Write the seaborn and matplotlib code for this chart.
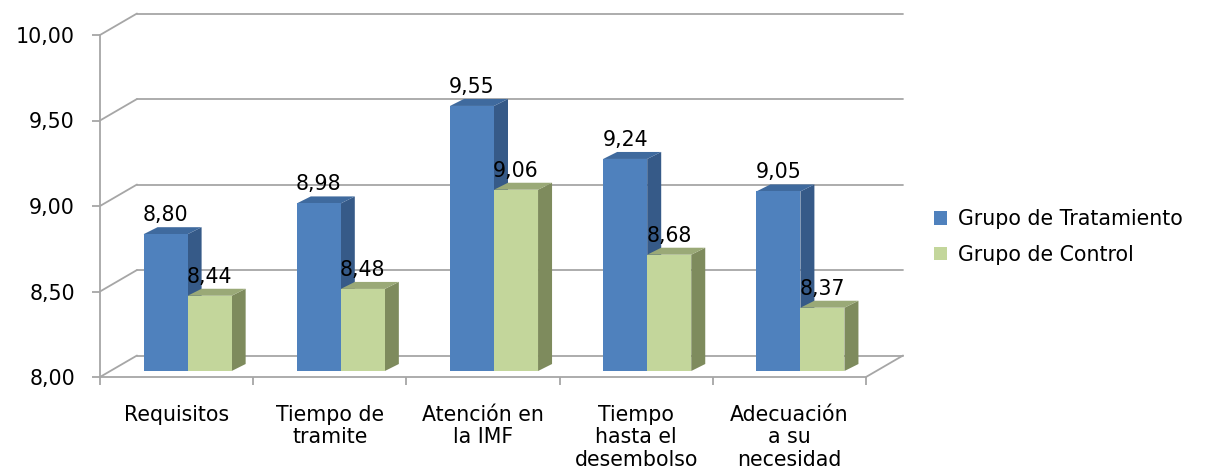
import matplotlib
matplotlib.use("Agg")
import matplotlib.pyplot as plt
import numpy as np
import pandas as pd
import seaborn as sns
from matplotlib.transforms import ScaledTranslation
from matplotlib.patches import Polygon, Patch

# ---- data -------------------------------------------------------------
categories = [
    "Requisitos",
    "Tiempo de\ntramite",
    "Atención en\nla IMF",
    "Tiempo\nhasta el\ndesembolso",
    "Adecuación\na su\nnecesidad",
]
groups = ["Grupo de Tratamiento", "Grupo de Control"]
tratamiento = [8.80, 8.98, 9.55, 9.24, 9.05]
control = [8.44, 8.48, 9.06, 8.68, 8.37]
y_ticks = [8.0, 8.5, 9.0, 9.5, 10.0]

# ---- style ------------------------------------------------------------
sns.set_style("white")
plt.rcParams["font.family"] = ["DejaVu Sans"]
plt.rcParams["text.color"] = "black"
plt.rcParams["xtick.labelcolor"] = "black"
plt.rcParams["ytick.labelcolor"] = "black"
FS = 14.8
front_cols = ["#4F81BD", "#C3D69B"]
side_cols = ["#365A88", "#7E8B5D"]
top_cols = ["#3F6A9E", "#9AA977"]
grid_col = "#A6A6A6"

df = pd.DataFrame({
    "categoria": categories * 2,
    "grupo": [groups[0]] * len(categories) + [groups[1]] * len(categories),
    "valor": tratamiento + control,
})

W, H = 1207, 470
fig = plt.figure(figsize=(W / 100, H / 100), dpi=100)
ax = fig.add_axes([100 / W, 93 / H, 766 / W, 342 / H])

sns.barplot(data=df, x="categoria", y="valor", hue="grupo",
            palette=front_cols, width=0.575, gap=0, saturation=1,
            legend=False, ax=ax, linewidth=0, edgecolor="none")

ymin, ymax = y_ticks[0], y_ticks[-1]
xmin, xmax = -0.5, len(categories) - 0.5
ax.set_ylim(ymin, ymax)
ax.set_xlim(xmin, xmax)

# 3-D look: offsets in pixels (x right, y up)
def shift(dx, dy):
    return ScaledTranslation(dx / 100, dy / 100, fig.dpi_scale_trans)

wall_d = (37, 21.5)      # depth of the back wall
bar_d = (11, 6)          # bars sit a little behind the front plane
bar_thick = (14, 7)      # depth of each bar

bar_tr = ax.transData + shift(*bar_d)
to_fig = fig.transFigure.inverted()

# back wall gridlines
for yv in y_ticks:
    ax.plot([xmin, xmax], [yv, yv], transform=ax.transData + shift(*wall_d),
            color=grid_col, lw=1.3, clip_on=False, zorder=0.5)
    p0 = ax.transData.transform((xmin, yv))
    p1 = p0 + np.array(wall_d)
    ax.plot(*to_fig.transform([p0, p1]).T, transform=fig.transFigure,
            color=grid_col, lw=1.3, clip_on=False, zorder=0.5)
# right edge of the floor
p0 = ax.transData.transform((xmax, ymin))
p1 = p0 + np.array(wall_d)
ax.plot(*to_fig.transform([p0, p1]).T, transform=fig.transFigure,
        color=grid_col, lw=1.3, clip_on=False, zorder=0.5)

# bars: front faces from seaborn, plus side and top faces
bars = sorted(ax.patches, key=lambda p: p.get_x())
n_cat = len(categories)
hue_of = {}
for i, p in enumerate(ax.patches):
    hue_of[id(p)] = i // n_cat

z = 2.0
for p in bars:
    h = hue_of[id(p)]
    top = p.get_y() + p.get_height()
    p.set_y(ymin)
    p.set_height(top - ymin)
    p.set_transform(bar_tr)
    p.set_clip_on(False)
    x0, x1 = p.get_x(), p.get_x() + p.get_width()
    (X0, Y0), (X1, Yt) = bar_tr.transform([(x0, ymin), (x1, top)])
    dx, dy = bar_thick
    side = [(X1, Y0), (X1 + dx, Y0 + dy), (X1 + dx, Yt + dy), (X1, Yt)]
    topf = [(X0, Yt), (X1, Yt), (X1 + dx, Yt + dy), (X0 + dx, Yt + dy)]
    ax.add_patch(Polygon(to_fig.transform(side), closed=True,
                         transform=fig.transFigure, facecolor=side_cols[h],
                         edgecolor="none", clip_on=False, zorder=z))
    ax.add_patch(Polygon(to_fig.transform(topf), closed=True,
                         transform=fig.transFigure, facecolor=top_cols[h],
                         edgecolor="none", clip_on=False, zorder=z + 0.1))
    p.set_zorder(z + 0.2)
    ax.annotate(f"{top:.2f}".replace(".", ","), xy=((x0 + x1) / 2, top),
                xycoords=bar_tr, xytext=(0, 9.5), textcoords="offset points",
                ha="center", va="baseline", fontsize=FS, color="black",
                zorder=10, annotation_clip=False)
    z += 1

ax.set_ylim(ymin, ymax)
ax.set_xlim(xmin, xmax)

# axes, ticks and labels
for s in ["top", "right"]:
    ax.spines[s].set_visible(False)
for s in ["left", "bottom"]:
    ax.spines[s].set_color(grid_col)
    ax.spines[s].set_linewidth(1.3)
ax.set_yticks(y_ticks)
ax.set_yticklabels([f"{v:.2f}".replace(".", ",") for v in y_ticks], fontsize=FS)
ax.tick_params(axis="y", length=6, width=1.3, color=grid_col, pad=12,
               direction="out", left=True, labelcolor="black")
ax.set_xticks(range(n_cat))
ax.set_xticklabels(categories, fontsize=FS, linespacing=1.17)
ax.set_xticks(np.arange(xmin, xmax + 0.01, 1), minor=True)
ax.tick_params(axis="x", which="major", length=0, pad=20, labelcolor="black")
ax.tick_params(axis="x", which="minor", length=6, width=1.3, color=grid_col,
               direction="out", bottom=True)
ax.set_xlabel("")
ax.set_ylabel("")
ax.grid(False)
ax.set_facecolor("none")

handles = [Patch(facecolor=c, edgecolor="none") for c in front_cols]
fig.legend(handles, groups, loc="center left",
           bbox_to_anchor=(915 / W, 1 - 237 / H), frameon=False,
           handlelength=0.65, handleheight=0.65, handletextpad=0.55,
           labelspacing=0.75, fontsize=FS, labelcolor="black")

fig.savefig("out.png", dpi=100)
